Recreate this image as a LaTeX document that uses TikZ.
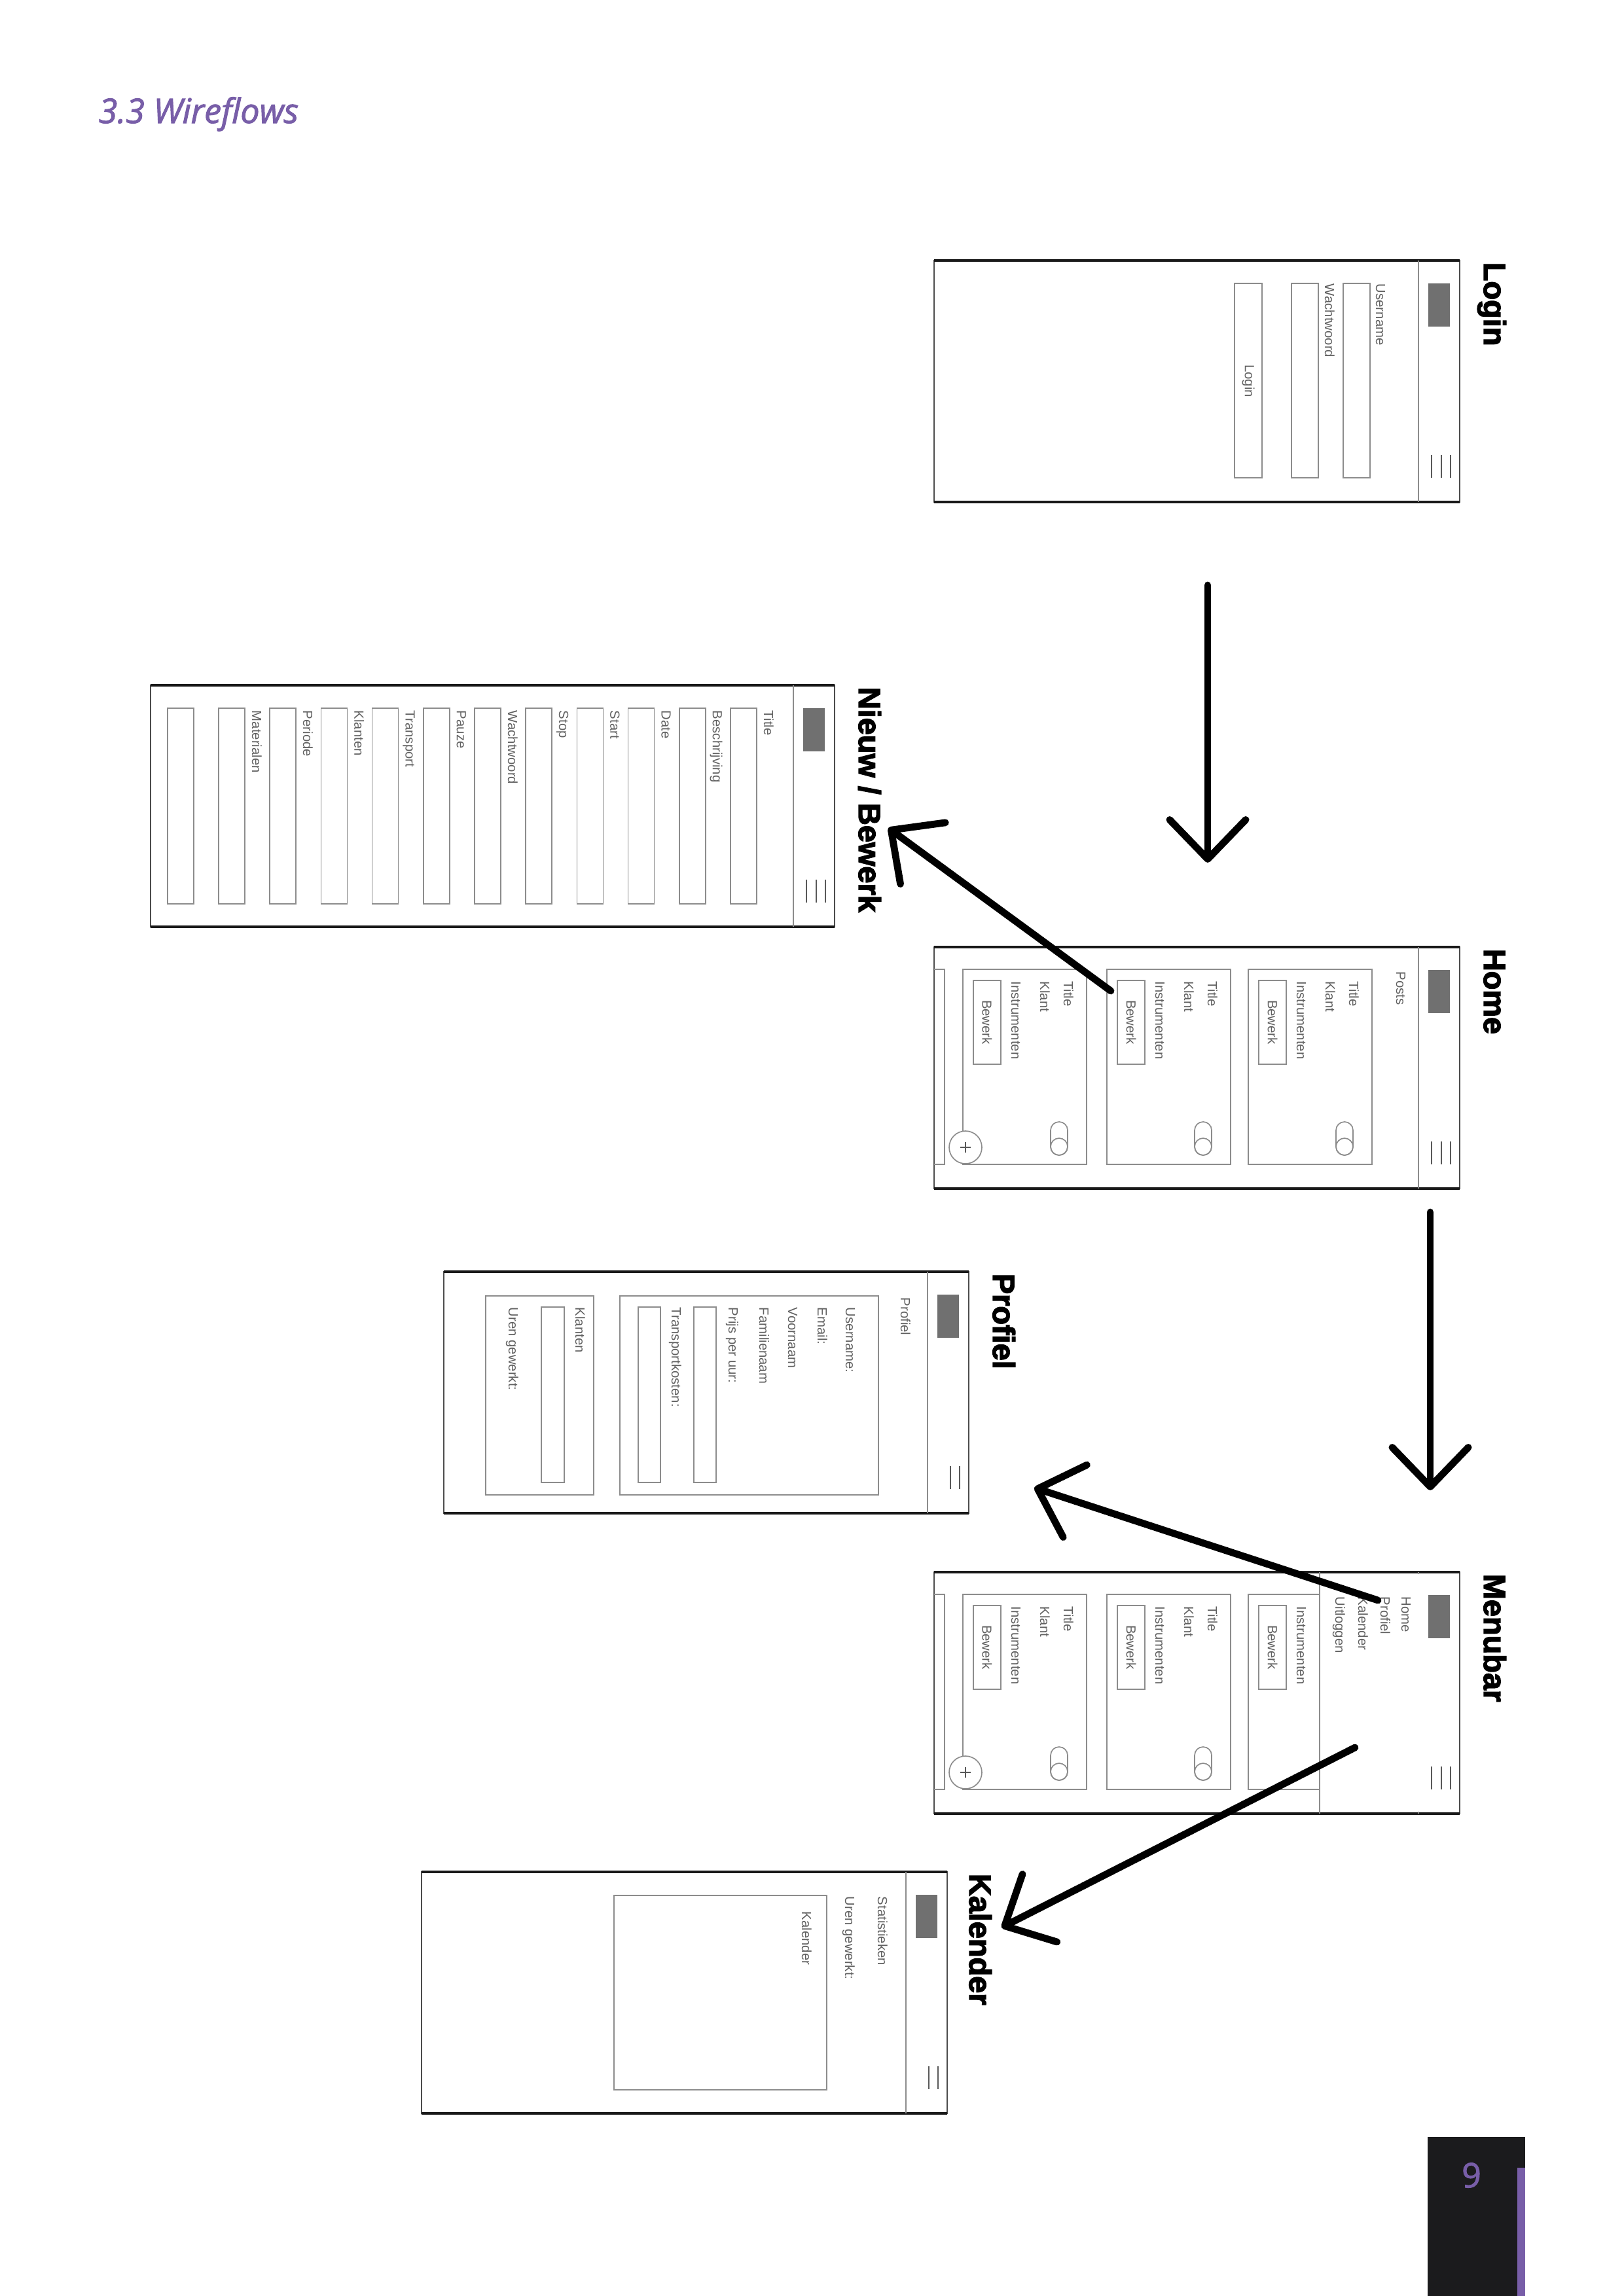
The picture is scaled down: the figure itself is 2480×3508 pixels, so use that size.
\documentclass[tikz,border=0pt]{standalone}
\usepackage{fontspec}
\usetikzlibrary{arrows.meta}
\newfontfamily\uifont{Liberation Sans}
\newfontfamily\headfont{Liberation Sans}[BoldFeatures={FakeBold=3}]
\newfontfamily\titlefont{Open Sans}[FakeBold=2]
\definecolor{wfPurple}{RGB}{120,94,168}
\definecolor{wfDark}{RGB}{27,27,29}
\definecolor{wfLogo}{RGB}{112,112,112}
\tikzset{
  frameln/.style={line width=0.45pt, black!70},
  frameedge/.style={line width=1pt, black!90},
  boxln/.style={line width=0.4pt, black!45},
  burgerln/.style={line width=0.6pt, black!65},
  uilabel/.style={font={\uifont\fontsize{4.9pt}{5pt}\selectfont}, text=black!62,
    rotate=-90, anchor=base west, inner sep=0pt},
  uibutton/.style={uilabel, anchor=center},
  screentitle/.style={font={\headfont\bfseries\fontsize{11.3pt}{13pt}\selectfont},
    rotate=-90, anchor=base west, inner sep=0pt},
  flowarrow/.style={-{Straight Barb[length=14.5pt, width=28pt, round]},
    line width=2.6pt, line cap=round},
}
% phone screen turned a quarter: width, hamburger offsets
\newcommand{\phoneframe}[2]{%
  \draw[frameln] (0,0) rectangle (#1,369);
  \draw[frameedge] (0,0) -- (#1,0) (0,369) -- (#1,369);
  \draw[boxln] ({#1-63},0) -- ({#1-63},369);
  \fill[wfLogo] ({#1-48},35) rectangle ({#1-15},101);
  \foreach \d in {#2} \draw[burgerln] ({#1-\d},297) -- ({#1-\d},332);
}
% one post card: left edge, name prefix
\newcommand{\postcard}[2]{%
  \draw[boxln] (#1,34) rectangle ({#1+189},332);
  \node[uilabel] (#2-title) at ({#1+154},52) {Title};
  \node[uilabel] (#2-klant) at ({#1+118},52) {Klant};
  \node[uilabel] (#2-instr) at ({#1+74},52) {Instrumenten};
  \draw[boxln] ({#1+16},51) rectangle ({#1+58},179);
  \node[uibutton] (#2-edit) at ({#1+37},115) {Bewerk};
  \draw[boxln, rounded corners=3.1pt] ({#1+134},267) rectangle ({#1+160},318);
  \draw[boxln] ({#1+147},305) circle (13);
}
\newcommand{\plusbutton}{%
  \draw[boxln, fill=white] (48,306) circle (25);
  \draw[burgerln] (40,306) -- (56,306) (48,298) -- (48,314);
}

\begin{document}
\begin{tikzpicture}[x=0.0084677cm, y=-0.0084677cm]
  \useasboundingbox (0,0) rectangle (2480,3508);
  \node[font={\titlefont\itshape\fontsize{12.5pt}{15pt}\selectfont}, text=wfPurple,
    anchor=base west, inner sep=0pt] (pageTitle) at (150,188) {3.3 Wireflows};

  % Login
  \begin{scope}[shift={(1427,398)}]
    \phoneframe{803}{43,28,14}
    \node[screentitle] (loginTitle) at (840,2) {Login};
    \node[uilabel] (loginUser) at (675,35) {Username};
    \draw[boxln] (625,35) rectangle (666,332);
    \node[uilabel] (loginPass) at (597,35) {Wachtwoord};
    \draw[boxln] (546,35) rectangle (587,332);
    \draw[boxln] (459,35) rectangle (501,332);
    \node[uibutton] (loginBtn) at (480,184) {Login};
  \end{scope}

  % Nieuw / Bewerk
  \begin{scope}[shift={(230,1047)}]
    \phoneframe{1045}{43,28,14}
    \node[screentitle] (editTitle) at (1082,2) {Nieuw / Bewerk};
    \foreach \i in {0,...,11}
      \draw[boxln] ({886-78.2*\i},35) rectangle ({926-78.2*\i},334);
    \foreach \lab [count=\i from 0] in {Title,Beschrijving,Date,Start,Stop,Wachtwoord,
        Pauze,Transport,Klanten,Periode,Materialen}
      \node[uilabel] (edit\i) at ({937-78.2*\i},38) {\lab};
  \end{scope}

  % Home
  \begin{scope}[shift={(1427,1447)}]
    \phoneframe{803}{43,28,14}
    \node[screentitle] (homeTitle) at (840,2) {Home};
    \node[uilabel] (homePosts) at (706,37) {Posts};
    \foreach \l [count=\i] in {480,264,44} {\postcard{\l}{home\i}}
    \draw[boxln] (0,34) -- (16,34) -- (16,332) -- (0,332);
    \plusbutton
  \end{scope}

  % Profiel
  \begin{scope}[shift={(678,1943)}]
    \phoneframe{802}{28,14}
    \node[screentitle] (profTitle) at (839,2) {Profiel};
    \node[uilabel] (profHead) at (698,39) {Profiel};
    \draw[boxln] (269,37) rectangle (664,341);
    \foreach \lab/\bx [count=\i] in {Username:/614, Email:/571, Voornaam/526,
        Familienaam/482, Prijs per uur:/435, Transportkosten:/348}
      \node[uilabel] (prof\i) at (\bx,54) {\lab};
    \draw[boxln] (382,54) rectangle (416,322);
    \draw[boxln] (297,54) rectangle (331,322);
    \draw[boxln] (64,37) rectangle (229,341);
    \node[uilabel] (profKlant) at (201,54) {Klanten};
    \draw[boxln] (149,54) rectangle (184,322);
    \node[uilabel] (profUren) at (99,54) {Uren gewerkt:};
  \end{scope}

  % Menubar
  \begin{scope}[shift={(1427,2402)}]
    \phoneframe{803}{43,28,14}
    \node[screentitle] (menuTitle) at (840,2) {Menubar};
    \foreach \l [count=\i] in {480,264,44} {\postcard{\l}{menu\i}}
    \draw[boxln] (0,34) -- (16,34) -- (16,332) -- (0,332);
    \plusbutton
    % open side menu
    \fill[white] (589,3) rectangle (801,366);
    \draw[boxln] (589,0) -- (589,369);
    \fill[wfLogo] (755,35) rectangle (788,101);
    \foreach \d in {43,28,14} \draw[burgerln] ({803-\d},297) -- ({803-\d},332);
    \foreach \lab/\bx [count=\i] in {Home/714, Profiel/682, Kalender/648, Uitloggen/613}
      \node[uilabel] (menuItem\i) at (\bx,37) {\lab};
  \end{scope}

  % Kalender
  \begin{scope}[shift={(644,2860)}]
    \phoneframe{803}{28,14}
    \node[screentitle] (calTitle) at (837,2) {Kalender};
    \node[uilabel] (calStats) at (697,37) {Statistieken};
    \node[uilabel] (calUren) at (647,37) {Uren gewerkt:};
    \draw[boxln] (294,36) rectangle (619,333);
    \node[uilabel] (calBox) at (581,60) {Kalender};
  \end{scope}

  % flow arrows
  \coordinate (loginOut) at (1845,894);
  \coordinate (homeIn) at (1845,1318);
  \coordinate (homeEdit) at (1697,1514);
  \coordinate (editIn) at (1357,1265);
  \coordinate (homeOut) at (2185,1852);
  \coordinate (menuIn) at (2185,2277);
  \coordinate (menuProf) at (2105,2445);
  \coordinate (profIn) at (1580,2273);
  \coordinate (menuCal) at (2070,2670);
  \coordinate (calIn) at (1530,2945);
  \draw[flowarrow] (loginOut) -- (homeIn);
  \draw[flowarrow] (homeEdit) -- (editIn);
  \draw[flowarrow] (homeOut) -- (menuIn);
  \draw[flowarrow] (menuProf) -- (profIn);
  \draw[flowarrow] (menuCal) -- (calIn);

  % page number tab
  \fill[wfDark] (2181,3265) rectangle (2330,3508);
  \fill[wfPurple] (2318,3312) rectangle (2330,3508);
  \node[font={\titlefont\fontsize{12.5pt}{15pt}\selectfont}, text=wfPurple,
    anchor=base, inner sep=0pt] (pageNum) at (2248,3342) {9};
\end{tikzpicture}
\end{document}
